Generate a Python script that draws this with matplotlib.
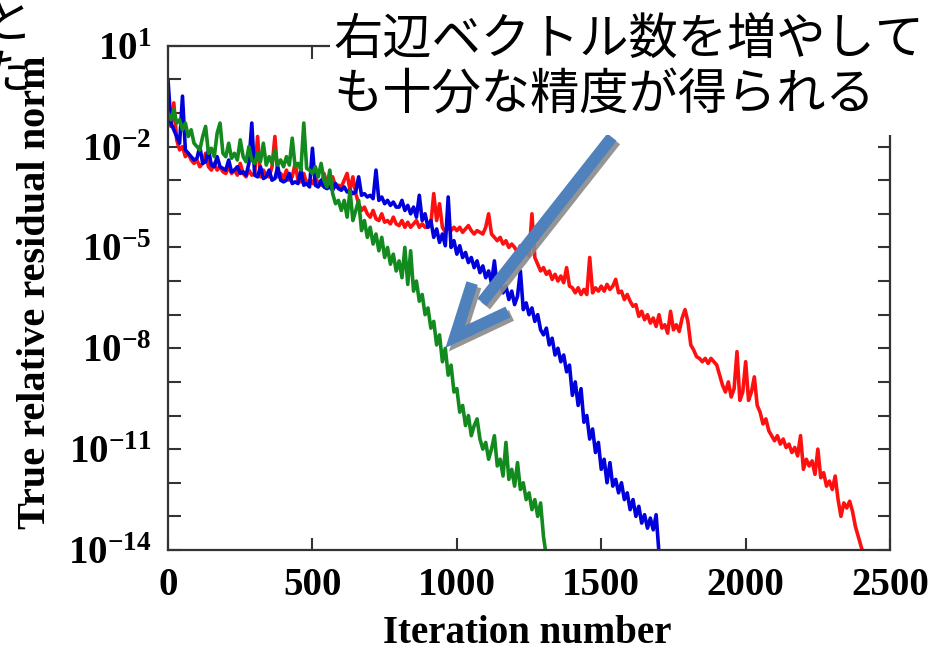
import numpy as np
import matplotlib
matplotlib.use("Agg")
import matplotlib.pyplot as plt
import matplotlib.patheffects as pe
from matplotlib.patches import Rectangle
from matplotlib.ticker import NullLocator

plt.rcParams["font.family"] = ["Liberation Serif"]
plt.rcParams["font.weight"] = "bold"
plt.rcParams["axes.labelweight"] = "bold"
plt.rcParams["mathtext.fontset"] = "custom"
plt.rcParams["mathtext.rm"] = "Liberation Serif:bold"
plt.rcParams["mathtext.bf"] = "Liberation Serif:bold"

STEP = 10  # residual recorded every 10 iterations

# log10 of the true relative residual norm, one row per 100 iterations
red_log = [
    -1.0, -1.4, -0.7, -1.8, -2.1, -2.0, -2.3, -2.2, -2.4, -2.5,
    -2.4, -2.6, -2.5, -2.2, -2.6, -2.7, -2.5, -2.7, -2.6, -2.75,
    -2.8, -2.6, -2.8, -2.7, -2.85, -2.5, -2.8, -2.9, -2.7, -2.85,
    -2.8, -1.7, -2.9, -2.7, -2.85, -2.9, -2.6, -1.7, -2.9, -2.8,
    -2.95, -2.7, -3.0, -2.9, -2.5, -3.0, -3.05, -2.8, -3.1, -3.0,
    -3.1, -2.9, -3.1, -3.15, -2.8, -3.1, -3.2, -2.9, -3.2, -3.15,
    -3.2, -3.0, -2.8, -3.3, -2.9, -3.4, -3.7, -3.9, -3.8, -4.0,
    -4.1, -3.9, -4.15, -4.2, -4.0, -4.25, -4.2, -4.3, -4.1, -4.3,
    -4.35, -4.2, -4.4, -4.25, -4.4, -4.3, -4.2, -4.4, -4.3, -4.4,
    -4.4, -4.3, -3.4, -4.2, -3.7, -4.4, -4.55, -4.4, -4.5, -4.4,
    -4.5, -4.4, -4.55, -4.45, -4.35, -4.5, -4.6, -4.5, -4.55, -4.6,
    -4.4, -4.0, -4.6, -4.7, -4.8, -4.7, -4.9, -4.8, -5.0, -4.9,
    -5.0, -5.15, -4.95, -5.2, -5.05, -5.25, -4.0, -5.3, -5.5, -5.7,
    -5.6, -5.8, -5.7, -5.95, -5.8, -6.0, -5.85, -6.05, -5.6, -6.15,
    -6.2, -6.35, -6.2, -6.4, -6.25, -6.4, -5.3, -6.35, -6.2, -6.3,
    -6.15, -6.3, -6.1, -6.25, -6.15, -5.95, -6.35, -6.3, -6.55, -6.4,
    -6.6, -6.75, -6.7, -7.05, -6.9, -7.15, -7.0, -7.25, -7.1, -7.35,
    -7.0, -7.4, -7.3, -7.55, -6.9, -7.45, -7.3, -7.5, -7.1, -6.85,
    -7.2, -7.9, -8.05, -8.25, -8.3, -8.4, -8.3, -8.45, -8.3, -8.4,
    -8.5, -8.8, -9.1, -9.3, -9.0, -9.45, -9.2, -8.1, -9.55, -9.3,
    -8.4, -9.55, -9.3, -8.85, -9.7, -9.9, -10.25, -10.1, -10.45, -10.6,
    -10.75, -10.6, -10.85, -10.7, -10.95, -10.85, -11.1, -10.95, -11.2, -10.6,
    -11.6, -11.3, -11.5, -11.35, -11.75, -11.0, -11.85, -11.7, -12.1, -11.95,
    -12.2, -11.8, -12.5, -13.0, -12.6, -12.75, -12.55, -12.85, -13.3, -13.6,
    -13.9, -14.2,
]

blue_log = [
    -0.03, -1.3, -1.5, -1.7, -1.9, -0.5, -2.1, -2.2, -2.3, -2.4,
    -2.35, -2.0, -2.5, -2.45, -2.1, -2.55, -2.6, -2.3, -2.6, -2.65,
    -2.7, -2.4, -2.75, -2.7, -2.6, -2.8, -2.75, -2.85, -2.5, -1.3,
    -2.85, -2.9, -2.6, -2.95, -2.9, -2.7, -3.0, -2.95, -2.6, -3.0,
    -3.05, -3.0, -2.8, -3.1, -3.05, -3.1, -2.7, -3.15, -3.1, -3.2,
    -2.05, -3.15, -3.2, -3.0, -3.2, -3.25, -3.2, -3.3, -3.1, -3.25,
    -3.3, -3.2, -3.35, -3.3, -3.4, -3.35, -2.9, -3.45, -3.4, -3.5,
    -3.45, -3.55, -2.7, -3.6, -3.5, -3.7, -3.6, -3.75, -3.65, -3.8,
    -3.8, -3.6, -3.9, -3.75, -4.0, -3.8, -4.1, -3.45, -4.2, -4.0,
    -4.4, -4.2, -4.7, -4.45, -4.85, -4.6, -4.95, -3.5, -5.0, -4.8,
    -5.2, -4.95, -5.3, -5.15, -5.45, -5.3, -5.6, -5.4, -5.75, -5.55,
    -5.9, -5.7, -6.05, -5.4, -6.2, -6.0, -6.35, -6.15, -6.55, -6.3,
    -6.7, -6.45, -5.7, -6.85, -6.65, -7.0, -6.8, -7.2, -7.0, -7.45,
    -7.6, -7.4, -7.9, -7.7, -8.2, -8.0, -8.4, -8.2, -8.7, -8.5,
    -9.4, -9.0, -9.7, -9.2, -10.2, -10.0, -10.7, -10.4, -11.1, -10.8,
    -11.6, -11.3, -12.0, -11.4, -12.1, -11.9, -12.3, -12.0, -12.5, -12.3,
    -12.8, -12.5, -13.0, -12.7, -13.2, -12.95, -13.35, -13.05, -13.4, -12.95,
    -14.1,
]

green_log = [
    -1.0, -1.2, -0.9, -1.3, -1.2, -1.5, -1.3, -1.7, -1.5, -1.9,
    -2.0, -2.1, -1.7, -1.4, -2.2, -2.05, -2.3, -1.6, -1.3, -2.2,
    -2.3, -1.9, -2.35, -2.2, -2.4, -1.8, -2.3, -2.45, -2.0, -2.4,
    -2.5, -2.2, -2.45, -1.9, -2.55, -2.3, -2.5, -2.1, -2.55, -2.4,
    -2.6, -2.3, -2.55, -1.75, -2.6, -2.5, -2.7, -1.3, -2.65, -2.7,
    -2.8, -2.6, -2.9, -2.5, -3.0, -3.2, -2.7, -3.4, -3.7, -3.6,
    -3.9, -3.6, -4.1, -3.3, -4.2, -3.9, -3.6, -4.5, -4.2, -4.7,
    -4.4, -4.9, -4.6, -5.1, -4.7, -5.3, -5.0, -5.5, -5.2, -5.7,
    -5.4, -5.9, -5.0, -6.1, -5.1, -6.3, -6.0, -6.6, -6.4, -7.0,
    -6.8, -7.4, -7.2, -7.9, -7.6, -8.4, -8.0, -8.8, -8.5, -9.3,
    -9.2, -9.9, -9.7, -10.3, -10.0, -10.6, -10.3, -10.1, -10.7, -11.0,
    -10.8, -11.3, -11.0, -10.6, -11.5, -11.3, -11.8, -10.8, -11.9, -11.6,
    -12.1, -11.4, -12.2, -12.0, -12.5, -12.3, -12.8, -12.5, -13.0, -12.6,
    -13.6, -14.2,
]

series = [
    (red_log, "#ff1010"),
    (blue_log, "#0000dd"),
    (green_log, "#128a1e"),
]

x_ticks = [0, 500, 1000, 1500, 2000, 2500]
y_decades = list(range(-14, 2))
labelled_decades = [1, -2, -5, -8, -11, -14]

note_lines = ["右辺ベクトル数を増やして", "も十分な精度が得られる"]

# arrow pointing at the green curve (data coordinates, y as log10)
arrow_shaft = [(1537, -1.72), (1087, -6.63)]
arrow_head = [(1053, -6.06), (994, -7.66), (1177, -6.92)]

fig = plt.figure(figsize=(9.32, 6.55), dpi=100)
ax = fig.add_axes([0.1803, 0.1603, 0.7747, 0.7699])

for logs, color in series:
    iters = np.arange(len(logs)) * STEP
    ax.semilogy(iters, 10.0 ** np.array(logs), color=color, lw=2.6)

ax.set_xlim(0, 2500)
ax.set_ylim(1e-14, 1e1)
ax.set_xticks(x_ticks)
ax.set_xticklabels([str(t) for t in x_ticks])
ax.set_yticks([10.0 ** d for d in y_decades])
ax.set_yticklabels([rf"$\mathbf{{10^{{{d}}}}}$" if d in labelled_decades else ""
                    for d in y_decades])
ax.yaxis.set_minor_locator(NullLocator())

ax.tick_params(direction="in", length=9, width=1.5, color="#333333",
               top=True, right=True, labelsize=28, pad=12)
for sp in ax.spines.values():
    sp.set_color("#333333")
    sp.set_linewidth(1.6)

ax.set_xlabel("Iteration number", fontsize=28)
ax.set_ylabel("True relative residual norm", fontsize=29)
ax.xaxis.set_label_coords(0.497, -0.128)
ax.yaxis.set_label_coords(-0.158, 0.512)

shadow = [pe.SimpleLineShadow(offset=(2.5, -2.5), shadow_color="#8a8a8a", alpha=0.9),
          pe.Normal()]
sx, sy = zip(*arrow_shaft)
ax.plot(sx, 10.0 ** np.array(sy), color="#4f81bd", lw=8.5, solid_capstyle="butt",
        clip_on=False, zorder=6, path_effects=shadow)
hx, hy = zip(*arrow_head)
ax.plot(hx, 10.0 ** np.array(hy), color="#4f81bd", lw=8.5, solid_capstyle="butt",
        solid_joinstyle="miter", clip_on=False, zorder=6, path_effects=shadow)

# white panel behind the note
fig.patches.append(Rectangle((330 / 932, 1 - 135 / 655), 602 / 932, 135 / 655,
                             transform=fig.transFigure, facecolor="white",
                             edgecolor="none", zorder=2))
jp = ["Noto Sans CJK JP", "DejaVu Sans"]
fig.text(333 / 932, 1 - 41 / 655, note_lines[0], fontsize=35.5, family=jp,
         fontweight="normal", va="center", ha="left", zorder=3)
fig.text(333 / 932, 1 - 96 / 655, note_lines[1], fontsize=35.5, family=jp,
         fontweight="normal", va="center", ha="left", zorder=3)
fig.text(-17 / 932, 1 - 24 / 655, "と", fontsize=35, family=jp,
         fontweight="normal", va="center", ha="left")
fig.text(-19 / 932, 1 - 75 / 655, "た", fontsize=35, family=jp,
         fontweight="normal", va="center", ha="left")

fig.savefig("out.png", dpi=100)
